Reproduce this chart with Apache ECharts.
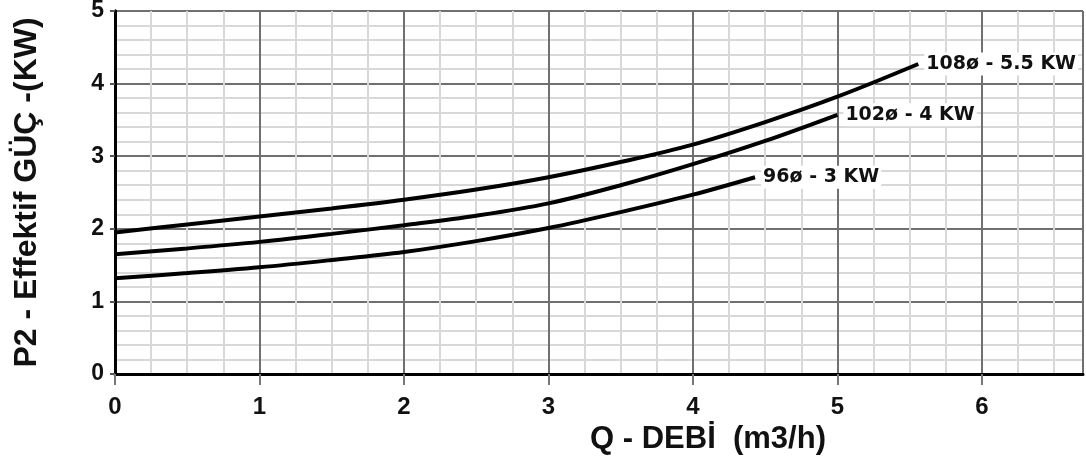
<!DOCTYPE html>
<html>
<head>
<meta charset="utf-8">
<script src="https://cdn.jsdelivr.net/npm/echarts@6/dist/echarts.min.js"></script>
<style>html,body{margin:0;padding:0;background:#fff}#c{width:1086px;height:458px}</style>
</head>
<body>
<div id="c"></div>
<script>
// Data
const seriesNames = ['108ø - 5.5 KW', '102ø - 4 KW', '96ø - 3 KW'];
const q108 = [0, 0.5, 1, 1.5, 2, 2.5, 3, 3.5, 4, 4.5, 5, 5.56];
const p108 = [1.95, 2.06, 2.17, 2.28, 2.40, 2.54, 2.71, 2.92, 3.16, 3.47, 3.82, 4.27];
const q102 = [0, 0.5, 1, 1.5, 2, 2.5, 3, 3.5, 4, 4.5, 5];
const p102 = [1.65, 1.73, 1.82, 1.93, 2.05, 2.18, 2.35, 2.60, 2.89, 3.21, 3.57];
const q96 = [0, 0.5, 1, 1.5, 2, 2.5, 3, 3.5, 4, 4.43];
const p96 = [1.32, 1.39, 1.47, 1.57, 1.68, 1.83, 2.01, 2.23, 2.47, 2.71];
const xTitle = 'Q - DEBİ  (m3/h)';
const yTitle = 'P2 - Effektif GÜÇ -(KW)';

const pairs = (xs, ys) => xs.map((x, i) => [x, ys[i]]);
const curves = [pairs(q108, p108), pairs(q102, p102), pairs(q96, p96)];

const chart = echarts.init(document.getElementById('c'));
const labelFont = { fontFamily: 'Liberation Sans, Arial, sans-serif', fontWeight: 'bold', color: '#111' };

chart.setOption({
  animation: false,
  backgroundColor: '#fff',
  grid: { left: 115, right: 3, top: 11, bottom: 84, containLabel: false, outerBoundsMode: 'none' },
  xAxis: {
    type: 'value', min: 0, max: 6.7, interval: 1,
    name: xTitle, nameLocation: 'middle', nameGap: 46,
    nameTextStyle: Object.assign({}, labelFont, { fontSize: 31, padding: [0, 0, 0, 218] }),
    axisLine: { show: true, onZero: false, lineStyle: { color: '#000', width: 3 } },
    axisTick: { show: true, length: 11, lineStyle: { color: '#777', width: 2 } },
    axisLabel: Object.assign({}, labelFont, { fontSize: 24, margin: 21, showMaxLabel: false }),
    splitLine: { show: true, lineStyle: { color: '#707070', width: 2 } },
    minorTick: { show: false, splitNumber: 4 },
    minorSplitLine: { show: true, lineStyle: { color: '#d8d8d8', width: 2 } }
  },
  yAxis: [{
    type: 'value', min: 0, max: 5, interval: 1,
    name: yTitle, nameLocation: 'middle', nameGap: 72, nameRotate: 90,
    nameTextStyle: Object.assign({}, labelFont, { fontSize: 32 }),
    axisLine: { show: true, onZero: false, lineStyle: { color: '#000', width: 3 } },
    axisTick: { show: true, length: 5, lineStyle: { color: '#555', width: 2 } },
    axisLabel: Object.assign({}, labelFont, { fontSize: 23, margin: 11 }),
    splitLine: { show: true, lineStyle: { color: '#707070', width: 2 } },
    minorTick: { show: false, splitNumber: 5 },
    minorSplitLine: { show: true, lineStyle: { color: '#d8d8d8', width: 2 } }
  }, {
    type: 'value', min: 0, max: 5, interval: 1, position: 'right',
    axisLine: { show: true, lineStyle: { color: '#000', width: 3 } },
    axisTick: { show: false }, axisLabel: { show: false }, splitLine: { show: false }
  }],
  series: curves.map((d, i) => ({
    type: 'line',
    name: seriesNames[i],
    data: d,
    smooth: 0.35,
    showSymbol: false,
    silent: true,
    z: 5,
    lineStyle: { color: '#000', width: 4 },
    endLabel: {
      show: true,
      formatter: '{a}',
      distance: 6,
      color: '#111',
      fontFamily: 'DejaVu Sans, sans-serif',
      fontWeight: 'bold',
      fontSize: 19,
      backgroundColor: '#fff',
      padding: [2, 2]
    }
  }))
});
</script>
</body>
</html>
